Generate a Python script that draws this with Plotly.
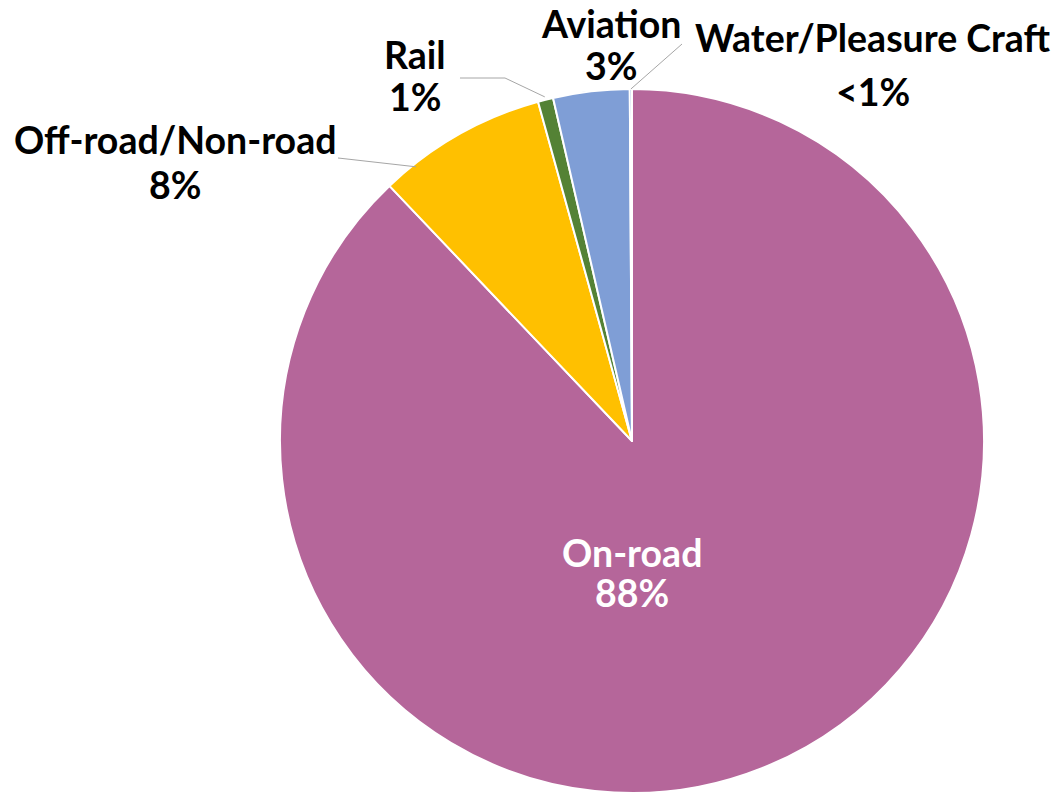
import math
import plotly.graph_objects as go

# ---- data ----
categories = ["On-road", "Off-road/Non-road", "Rail", "Aviation", "Water/Pleasure Craft"]
values = [87.9, 7.8, 0.7, 3.5, 0.1]
pct_labels = ["88%", "8%", "1%", "3%", "<1%"]
colors = ["#B5669A", "#FFC000", "#548235", "#7F9ED6", "#4472C4"]

W, H = 1061, 794
CX, CY, R = 632, 441, 352

def px(x):
    return x / W

def py(y):
    return 1 - y / H

fig = go.Figure(go.Pie(
    labels=categories,
    values=values,
    sort=False,
    direction="clockwise",
    rotation=0,
    textinfo="none",
    hoverinfo="label+percent",
    marker=dict(colors=colors, line=dict(color="white", width=2)),
    domain=dict(x=[px(CX - R), px(CX + R)], y=[py(CY + R), py(CY - R)]),
    showlegend=False,
))

# slice angles (clockwise from 12 o'clock) derived from data
total = sum(values)
starts, ends = [], []
acc = 0.0
for v in values:
    starts.append(acc / total * 360)
    acc += v
    ends.append(acc / total * 360)

def edge(angle_deg, rr=R):
    a = math.radians(angle_deg)
    return CX + rr * math.sin(a), CY - rr * math.cos(a)

def slice_angle(i, frac):
    return starts[i] + (ends[i] - starts[i]) * frac

# label layout: x centre, y of name line, y of percent line (pixels)
label_pos = {
    0: (632, 552, 592),
    1: (175, 140, 184),
    2: (415, 54, 96),
    3: (611, 23, 65),
    4: (873, 38, 91),
}
font_family = "Lato, 'Open Sans', sans-serif"
annotations = []
for i, (lx, ly1, ly2) in label_pos.items():
    for txt, ly in ((categories[i], ly1), (pct_labels[i], ly2)):
        annotations.append(dict(
            x=px(lx), y=py(ly), xref="paper", yref="paper",
            text=txt,
            showarrow=False, xanchor="center", yanchor="middle",
            font=dict(family=font_family, size=37.5, weight="bold",
                      color="white" if i == 0 else "black"),
        ))

shapes = []
def leader(points):
    path = "M " + " L ".join(f"{px(x):.5f},{py(y):.5f}" for x, y in points)
    shapes.append(dict(type="path", path=path, xref="paper", yref="paper",
                       line=dict(color="#A6A6A6", width=1)))

t1 = edge(slice_angle(1, 0.19), R - 3)
leader([(338, 158), t1])
t2 = edge(slice_angle(2, 0.5), R + 3)
leader([(460, 78), (505, 78), t2])
t4 = edge(slice_angle(4, 0.5), R)
leader([t4, (682, 44)])

fig.update_layout(
    width=W, height=H,
    margin=dict(l=0, r=0, t=0, b=0),
    paper_bgcolor="white", plot_bgcolor="white",
    annotations=annotations, shapes=shapes,
)

fig.write_html(
    "out.html",
    config={"displayModeBar": False},
    post_script="document.body.style.margin='0';document.body.style.overflow='hidden';",
)
